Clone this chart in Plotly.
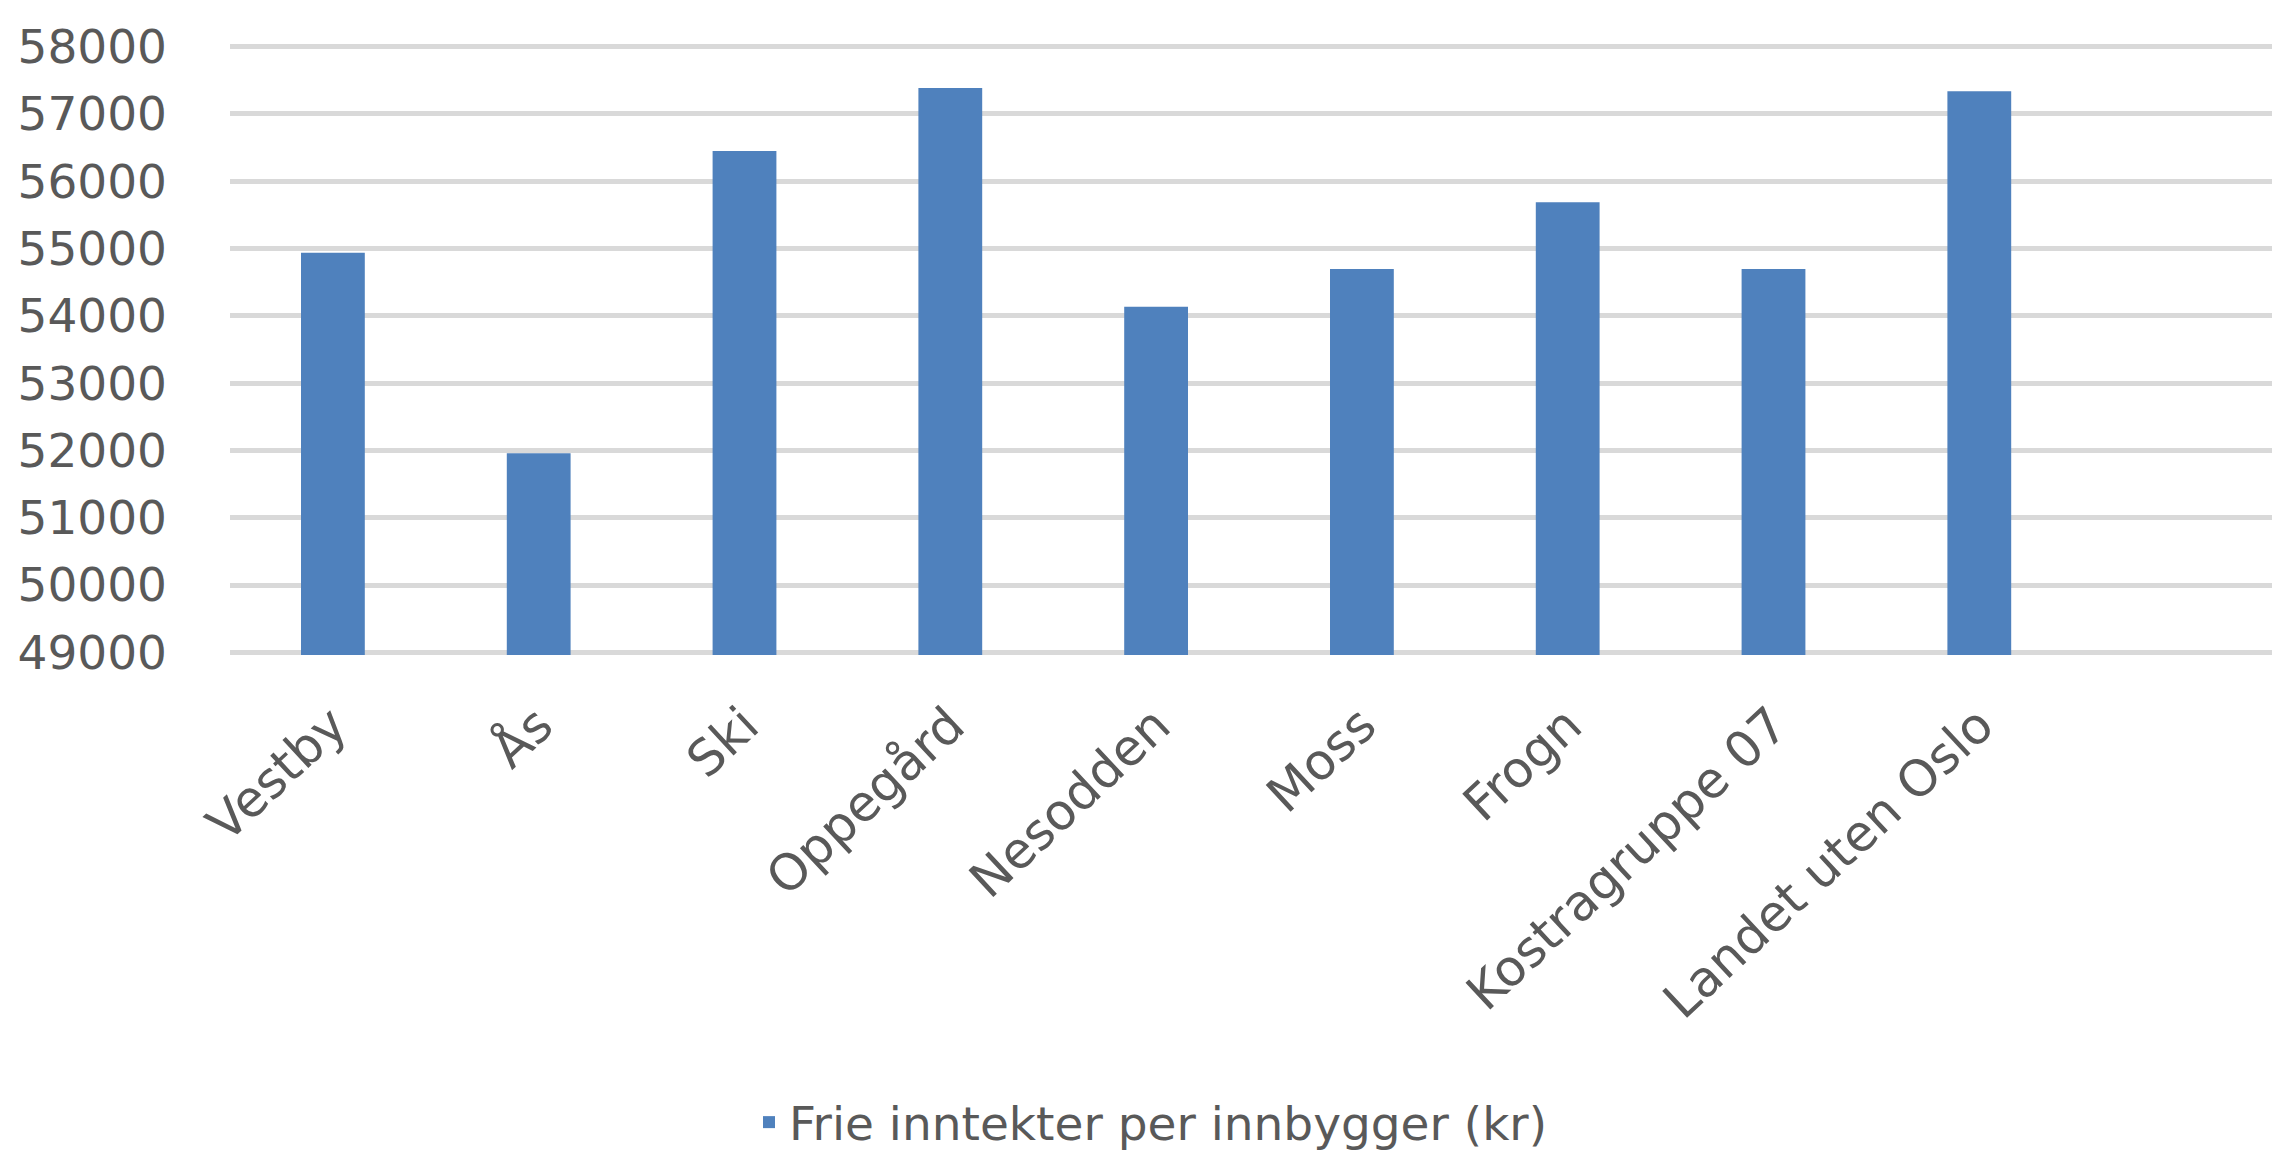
import plotly.graph_objects as go

categories = ["Vestby", "Ås", "Ski", "Oppegård", "Nesodden", "Moss", "Frogn",
              "Kostragruppe 07", "Landet uten Oslo"]
values = [54936, 51958, 56451, 57385, 54135, 54698, 55690, 54698, 57338]
series_name = "Frie inntekter per innbygger (kr)"
y_ticks = [49000, 50000, 51000, 52000, 53000, 54000, 55000, 56000, 57000, 58000]

BAR = "#4f81bd"
TXT = "#595959"
FONT = "DejaVu Sans"

fig = go.Figure()
fig.add_trace(go.Bar(x=categories, y=values, name=series_name,
                     marker=dict(color=BAR, line=dict(width=0)),
                     showlegend=True))

fig.update_layout(
    width=2280, height=1155,
    margin=dict(l=222, r=0, t=36, b=508, autoexpand=False),
    paper_bgcolor="white", plot_bgcolor="white",
    bargap=0.69,
    font=dict(family=FONT, color=TXT, size=47),
    showlegend=True,
    legend=dict(orientation="h", xref="container", yref="container",
                x=0.325, xanchor="left", y=0.035, yanchor="middle",
                font=dict(family=FONT, size=47, color=TXT),
                bgcolor="rgba(0,0,0,0)"),
)
fig.update_xaxes(type="category", range=[-0.5, 9.5], showgrid=False,
                 showline=False, zeroline=False, ticks="", automargin=False,
                 tickangle=-43, tickfont=dict(family=FONT, size=50, color=TXT),
                 ticklabelstandoff=30)
fig.update_yaxes(range=[48960, 58040], tickvals=y_ticks,
                 ticktext=[str(v) for v in y_ticks], automargin=False,
                 showgrid=True, gridcolor="#d9d9d9", gridwidth=5,
                 zeroline=False, showline=False, ticks="",
                 tickfont=dict(family=FONT, size=47, color=TXT),
                 ticklabelstandoff=62)

fig.write_html("out.html")
